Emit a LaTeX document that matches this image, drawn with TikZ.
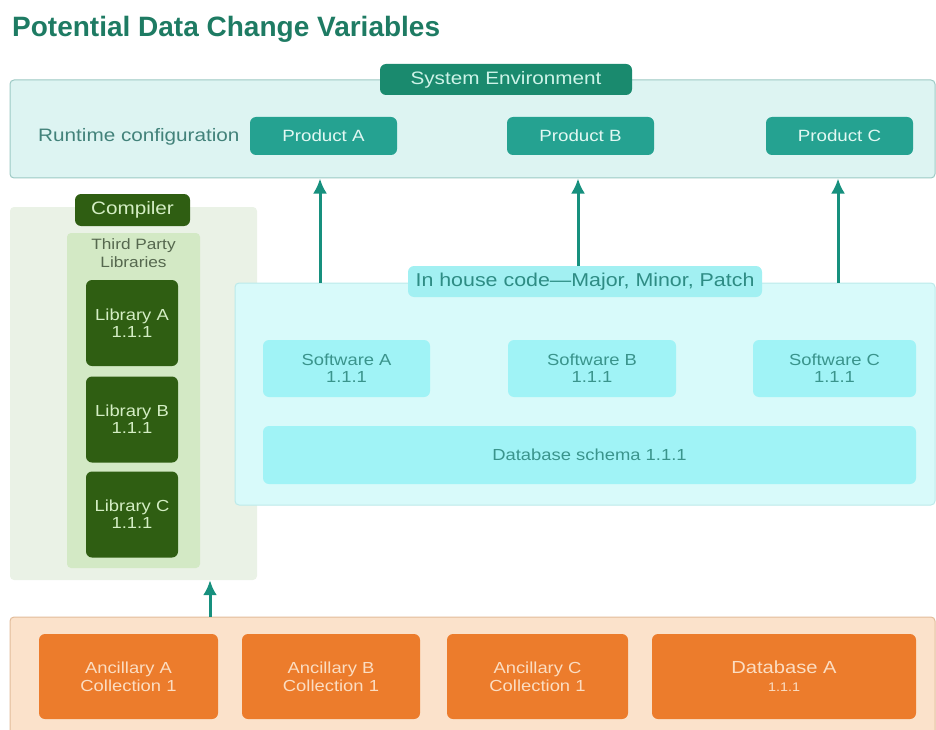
\documentclass[tikz,border=0pt]{standalone}
\usepackage{fontspec}
\setmainfont[FakeStretch=1.15]{Liberation Sans}
\newfontfamily\titlefont{Liberation Sans}
\usetikzlibrary{arrows.meta}

\definecolor{titlegreen}{HTML}{1E7B63}
\definecolor{envfill}{HTML}{DDF4F2}
\definecolor{envline}{HTML}{9CC9C4}
\definecolor{envlabel}{HTML}{1A8A6E}
\definecolor{envtext}{HTML}{CDF3E8}
\definecolor{prodteal}{HTML}{25A291}
\definecolor{prodtext}{HTML}{E2F8F3}
\definecolor{flowteal}{HTML}{17907E}
\definecolor{runtext}{HTML}{42827A}
\definecolor{compfill}{HTML}{EAF2E6}
\definecolor{compdark}{HTML}{2F5E12}
\definecolor{comptext}{HTML}{D4EEC4}
\definecolor{libfill}{HTML}{D3E9C5}
\definecolor{libtext}{HTML}{56684F}
\definecolor{housefill}{HTML}{D8FAFA}
\definecolor{houseline}{HTML}{BCEAEA}
\definecolor{houselabel}{HTML}{A2F0F2}
\definecolor{housetext}{HTML}{2E8C84}
\definecolor{softfill}{HTML}{A0F3F6}
\definecolor{softtext}{HTML}{3A948C}
\definecolor{basefill}{HTML}{FBE2CB}
\definecolor{baseline}{HTML}{E2BC9A}
\definecolor{ancorange}{HTML}{EC7C2C}
\definecolor{anctext}{HTML}{FBDDC2}

\tikzset{
  box/.style={rounded corners=6pt, inner sep=0pt, align=center},
  panel/.style={box, rounded corners=4pt},
  tag/.style={box, font=\fontsize{18}{20}\selectfont},
  product/.style={box, fill=prodteal, text=prodtext, minimum width=147pt, minimum height=38pt, font=\fontsize{16.3}{18}\selectfont},
  library/.style={box, fill=compdark, text=comptext, minimum width=92pt, minimum height=86pt, font=\fontsize{16}{17}\selectfont},
  software/.style={box, fill=softfill, text=softtext, minimum height=57pt, font=\fontsize{16}{17}\selectfont},
  ancillary/.style={box, fill=ancorange, text=anctext, minimum height=85pt, font=\fontsize{16}{18}\selectfont},
  flow/.style={draw=flowteal, line width=3pt, -{Latex[length=15pt,width=14pt]}}
}

\begin{document}
\begin{tikzpicture}[x=1pt, y=-1pt]
  \useasboundingbox (0,0) rectangle (936,730);

  \node[anchor=base west, inner sep=0pt, text=titlegreen, font=\titlefont\bfseries\fontsize{28}{30}\selectfont] (title) at (12,37) {Potential Data Change Variables};

  % system environment
  \node[panel, fill=envfill, draw=envline, line width=1pt, minimum width=925pt, minimum height=98pt] (sysenv) at (472.5,129) {};
  \node[tag, fill=envlabel, text=envtext, minimum width=252pt, minimum height=31pt] (envtag) at (506,79.5) {System Environment};
  \node[anchor=west, inner sep=0pt, text=runtext, font=\fontsize{18}{20}\selectfont] (runtime) at (38,137) {Runtime configuration};
  \node[product] (proda) at (323.5,136) {Product A};
  \node[product] (prodb) at (580.5,136) {Product B};
  \node[product] (prodc) at (839.5,136) {Product C};

  % compiler
  \node[panel, fill=compfill, minimum width=247pt, minimum height=373pt] (compiler) at (133.5,393.5) {};
  \node[tag, fill=compdark, text=comptext, minimum width=115pt, minimum height=32pt] (comptag) at (132.5,210) {Compiler};
  \node[panel, fill=libfill, minimum width=133pt, minimum height=335pt] (thirdparty) at (133.5,400.5) {};
  \node[anchor=north, text=libtext, align=center, inner sep=0pt, font=\fontsize{15}{18}\selectfont] (tplabel) at (133.5,238) {Third Party\\Libraries};
  \node[library] (liba) at (132,323) {Library A\\1.1.1};
  \node[library] (libb) at (132,419.5) {Library B\\1.1.1};
  \node[library] (libc) at (132,514.5) {Library C\\1.1.1};

  % in house code
  \node[panel, fill=housefill, draw=houseline, line width=1pt, minimum width=700pt, minimum height=222pt] (inhouse) at (585,394) {};
  \node[tag, fill=houselabel, text=housetext, font=\fontsize{18.6}{20}\selectfont, minimum width=354pt, minimum height=31pt] (housetag) at (585,281.5) {In house code---Major, Minor, Patch};
  \node[software, minimum width=167pt] (softa) at (346.5,368.5) {Software A\\1.1.1};
  \node[software, minimum width=168pt] (softb) at (592,368.5) {Software B\\1.1.1};
  \node[software, minimum width=163pt] (softc) at (834.5,368.5) {Software C\\1.1.1};
  \node[software, minimum width=653pt, minimum height=58pt] (schema) at (589.5,455) {Database schema 1.1.1};

  % data sources
  \node[panel, fill=basefill, draw=baseline, line width=1pt, minimum width=925pt, minimum height=118pt] (sources) at (472.5,676) {};
  \node[ancillary, minimum width=179pt] (anca) at (128.5,676.5) {Ancillary A\\Collection 1};
  \node[ancillary, minimum width=178pt] (ancb) at (331,676.5) {Ancillary B\\Collection 1};
  \node[ancillary, minimum width=181pt] (ancc) at (537.5,676.5) {Ancillary C\\Collection 1};
  \node[ancillary, minimum width=264pt] (dba) at (784,676.5) {\fontsize{17.5}{18}\selectfont Database A\\{\fontsize{12.5}{14}\selectfont 1.1.1}};

  % arrows
  \coordinate (upa) at (320,0);
  \coordinate (upb) at (578,0);
  \coordinate (upc) at (838,0);
  \coordinate (upl) at (210,0);
  \draw[flow] (inhouse.north -| upa) -- (upa |- sysenv.south);
  \draw[flow] (housetag.north -| upb) -- (upb |- sysenv.south);
  \draw[flow] (inhouse.north -| upc) -- (upc |- sysenv.south);
  \draw[flow] (sources.north -| upl) -- (upl |- compiler.south);
\end{tikzpicture}
\end{document}
